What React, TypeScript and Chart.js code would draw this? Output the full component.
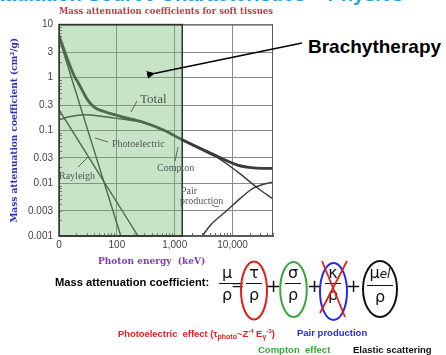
import React, { useEffect, useRef } from "react";
import { Chart, registerables } from "chart.js";

Chart.register(...registerables);

// ---- data ----
const xTickValues = [10, 100, 1000, 10000];
const xTickLabels = ["0", "100", "1,000", "10,000"];
const yTickValues = [0.001, 0.003, 0.01, 0.03, 0.1, 0.3, 1, 3, 10];
const yTickLabels = ["0.001", "0.003", "0.01", "0.03", "0.1", "0.3", "1", "3", "10"];

const totalEnergy = [10, 14, 18.6, 21, 31, 41, 62, 92, 122, 272, 684, 1350, 4140, 12200, 23200, 50000];
const totalMu = [6.2, 2.2, 1.03, 0.83, 0.38, 0.27, 0.224, 0.197, 0.18, 0.145, 0.098, 0.066, 0.037, 0.022, 0.0195, 0.019];

const comptonEnergy = [10, 15, 28, 62, 92, 122, 272, 684, 1350, 4140, 5480, 12200, 27200, 50000];
const comptonMu = [0.158, 0.18, 0.197, 0.18, 0.17, 0.163, 0.14, 0.096, 0.065, 0.035, 0.0305, 0.0163, 0.0081, 0.005];

const photoEnergy = [10, 117];
const photoMu = [5.6, 0.001];

const rayleighEnergy = [10, 232];
const rayleighMu = [0.245, 0.001];

const pairEnergy = [3000, 4140, 8180, 13800, 23200, 50000];
const pairMu = [0.001, 0.0016, 0.0031, 0.0052, 0.0081, 0.0106];

const brachyMaxEnergy = 1350;
const xMin = 10;
const xMax = 50000;
const yMin = 0.001;
const yMax = 10;

const pts = (xs: number[], ys: number[]) => xs.map((x, i) => ({ x, y: ys[i] }));

const overlayPlugin = {
  id: "overlay",
  beforeDatasetsDraw(chart: any) {
    const { ctx, chartArea, scales } = chart;
    const { left, bottom } = chartArea;
    ctx.save();
    ctx.strokeStyle = "#666";
    ctx.lineWidth = 1;
    for (let d = 10; d < xMax; d *= 10) {
      for (let m = 2; m <= 9; m++) {
        const v = d * m;
        if (v > xMax) break;
        const px = Math.round(scales.x.getPixelForValue(v)) + 0.5;
        ctx.beginPath();
        ctx.moveTo(px, bottom);
        ctx.lineTo(px, bottom - 3);
        ctx.stroke();
      }
    }
    for (let d = 0.001; d < yMax; d *= 10) {
      for (let m = 2; m <= 9; m++) {
        const py = Math.round(scales.y.getPixelForValue(d * m)) + 0.5;
        ctx.beginPath();
        ctx.moveTo(left, py);
        ctx.lineTo(left + 3, py);
        ctx.stroke();
      }
    }
    ctx.restore();
  },
  afterDatasetsDraw(chart: any) {
    const { ctx, chartArea, scales } = chart;
    const { left, right, top, bottom } = chartArea;
    const gx = scales.x.getPixelForValue(brachyMaxEnergy);
    ctx.save();
    ctx.fillStyle = "rgba(110,185,110,0.38)";
    ctx.fillRect(left, top, gx - left, bottom - top);
    ctx.strokeStyle = "#5a5a5a";
    ctx.lineWidth = 1;
    ctx.strokeRect(left + 0.5, top + 0.5, right - left - 1, bottom - top - 1);
    ctx.strokeStyle = "#333";
    ctx.lineWidth = 1.5;
    ctx.strokeRect(left, top, gx - left, bottom - top);
    ctx.restore();
  },
};

function ChartCanvas() {
  const ref = useRef<HTMLCanvasElement | null>(null);
  useEffect(() => {
    if (!ref.current) return;
    const lineColor = "#3a3a3a";
    const chart = new Chart(ref.current, {
      type: "line",
      data: {
        datasets: [
          { label: "Total", data: pts(totalEnergy, totalMu), borderColor: lineColor, borderWidth: 2.8, cubicInterpolationMode: "monotone" },
          { label: "Compton", data: pts(comptonEnergy, comptonMu), borderColor: lineColor, borderWidth: 1.4, cubicInterpolationMode: "monotone" },
          { label: "Photoelectric", data: pts(photoEnergy, photoMu), borderColor: lineColor, borderWidth: 1.4, tension: 0 },
          { label: "Rayleigh", data: pts(rayleighEnergy, rayleighMu), borderColor: lineColor, borderWidth: 1.4, tension: 0 },
          { label: "Pair production", data: pts(pairEnergy, pairMu), borderColor: lineColor, borderWidth: 1.4, cubicInterpolationMode: "monotone" },
        ] as any,
      },
      options: {
        responsive: false,
        animation: false,
        events: [],
        elements: { point: { radius: 0 } },
        layout: { padding: { left: 0, right: 17, top: 0, bottom: 0 } },
        plugins: {
          legend: { display: false },
          tooltip: { enabled: false },
          title: {
            display: true,
            fullSize: false,
            text: "Mass attenuation coefficients for soft tissues",
            color: "#c03a44",
            font: { family: "'DejaVu Serif'", size: 8.8, weight: "bold" },
            padding: { top: 6, bottom: 8 },
          },
        },
        scales: {
          x: {
            type: "logarithmic",
            min: xMin,
            max: xMax,
            afterBuildTicks: (s: any) => {
              s.ticks = xTickValues.map((v) => ({ value: v }));
            },
            afterFit: (s: any) => {
              s.height = 26;
            },
            ticks: {
              autoSkip: false,
              maxRotation: 0,
              padding: 3,
              color: "#444",
              font: { family: "'Liberation Sans'", size: 10 },
              callback: (v: any) => {
                const i = xTickValues.indexOf(Number(v));
                return i >= 0 ? xTickLabels[i] : "";
              },
            },
            grid: { color: "#8a8a8a", lineWidth: 1, drawTicks: false },
            border: { color: "#5a5a5a" },
          },
          y: {
            type: "logarithmic",
            min: yMin,
            max: yMax,
            afterBuildTicks: (s: any) => {
              s.ticks = yTickValues.map((v) => ({ value: v }));
            },
            afterFit: (s: any) => {
              s.width = 59;
            },
            ticks: {
              autoSkip: false,
              padding: 6,
              color: "#444",
              font: { family: "'Liberation Sans'", size: 10 },
              callback: (v: any) => {
                const i = yTickValues.findIndex((t) => Math.abs(t - Number(v)) / t < 1e-6);
                return i >= 0 ? yTickLabels[i] : "";
              },
            },
            grid: { color: "#8a8a8a", lineWidth: 1, drawTicks: false },
            border: { color: "#5a5a5a" },
            title: {
              display: true,
              text: "Mass attenuation coefficient (cm\u00B2/g)",
              color: "#2e2eb8",
              font: { family: "'DejaVu Serif'", size: 9, weight: "bold" },
              padding: { top: 9, bottom: 0 },
            },
          },
        },
      },
      plugins: [overlayPlugin],
    } as any);
    return () => chart.destroy();
  }, []);
  return <canvas ref={ref} width={290} height={262} style={{ position: "absolute", left: 0, top: 0 }} />;
}

type TProps = { x: number; cy: number; size: number; color: string; family?: string; weight?: any; children: any; style?: any };
function T({ x, cy, size, color, family = "'Liberation Sans', Arial, sans-serif", weight = "normal", children, style }: TProps) {
  return (
    <div
      style={{
        position: "absolute",
        left: x,
        top: cy - size / 2,
        fontSize: size,
        lineHeight: 1,
        color,
        fontFamily: family,
        fontWeight: weight,
        whiteSpace: "nowrap",
        ...style,
      }}
    >
      {children}
    </div>
  );
}

function Frac({ cx, top, num, den, w = 16 }: { cx: number; top: number; num: any; den: any; w?: number }) {
  return (
    <div
      style={{
        position: "absolute",
        left: cx - w / 2,
        top,
        width: w,
        textAlign: "center",
        fontFamily: "'DejaVu Sans', sans-serif",
        fontSize: 16,
        lineHeight: "17px",
        color: "#111",
      }}
    >
      <div>{num}</div>
      <div style={{ height: 1.3, background: "#111", margin: "2px 0 2px 0" }} />
      <div>{den}</div>
    </div>
  );
}

const serif = "'Liberation Serif', 'Times New Roman', serif";
const labelGray = "#4d5a4d";

export default function App() {
  return (
    <div style={{ position: "absolute", left: 0, top: 0, width: 446, height: 355, overflow: "hidden", background: "#fff" }}>
      {/* slide title, clipped by the top edge */}
      <div
        style={{
          position: "absolute",
          right: 43,
          top: -16.5,
          fontSize: 20,
          lineHeight: 1,
          fontWeight: "bold",
          color: "#1ea0e0",
          fontFamily: "'Liberation Sans', Arial, sans-serif",
          whiteSpace: "nowrap",
        }}
      >
        Radiation Source Characteristics – Physics
      </div>

      <ChartCanvas />

      {/* x axis title */}
      <T x={98} cy={261} size={9} color="#7d3cc4" family="'DejaVu Serif', serif" weight="bold">
        Photon energy&nbsp; (keV)
      </T>

      {/* curve labels */}
      <T x={140} cy={98} size={13} color={labelGray} family={serif}>Total</T>
      <T x={112} cy={144} size={10} color={labelGray} family={serif}>Photoelectric</T>
      <T x={59} cy={176} size={10} color={labelGray} family={serif}>Rayleigh</T>
      <T x={157} cy={168} size={10} color={labelGray} family={serif}>Compton</T>
      <T x={181} cy={191} size={10} color="#555" family={serif}>Pair</T>
      <T x={180} cy={201} size={10} color="#555" family={serif}>production</T>

      <T x={308} cy={46} size={19} color="#000" weight="bold">Brachytherapy</T>

      <T x={55} cy={283} size={11.2} color="#000" weight="bold">Mass attenuation coefficient:</T>

      <Frac cx={227} top={264} num="μ" den="ρ" />
      <T x={231} cy={285} size={16} color="#111" family="'DejaVu Sans', sans-serif">=</T>
      <Frac cx={254} top={264} num="τ" den="ρ" />
      <T x={266} cy={286} size={18} color="#111" family="'DejaVu Sans', sans-serif">+</T>
      <Frac cx={293} top={264} num="σ" den="ρ" />
      <T x={307} cy={286} size={18} color="#111" family="'DejaVu Sans', sans-serif">+</T>
      <Frac cx={333} top={264} num="κ" den="ρ" />
      <T x={346} cy={286} size={18} color="#111" family="'DejaVu Sans', sans-serif">+</T>
      <Frac
        cx={380}
        top={264}
        w={26}
        num={
          <span>
            μ<span style={{ fontSize: 12, fontStyle: "italic" }}>el</span>
          </span>
        }
        den="ρ"
      />

      <svg width={446} height={355} style={{ position: "absolute", left: 0, top: 0, pointerEvents: "none" }}>
        <defs>
          <marker id="ah" markerWidth="8" markerHeight="8" refX="1" refY="4" orient="auto-start-reverse" markerUnits="userSpaceOnUse">
            <path d="M8,0 L0,4 L8,8 Z" fill="#000" />
          </marker>
        </defs>
        <line x1={302} y1={43} x2={154} y2={73.5} stroke="#000" strokeWidth={1.5} markerEnd="url(#ah)" />
        {/* label pointers */}
        <line x1={137} y1={101} x2={131} y2={112} stroke={labelGray} strokeWidth={0.9} />
        <line x1={108} y1={142} x2={95} y2={138} stroke={labelGray} strokeWidth={0.9} />
        <line x1={78} y1={167} x2={88} y2={157} stroke={labelGray} strokeWidth={0.9} />
        <line x1={175} y1={161} x2={178} y2={147} stroke={labelGray} strokeWidth={0.9} />
        <path d="M212,205 Q216,208 219,206" stroke="#555" strokeWidth={0.9} fill="none" />

        {/* formula ellipses */}
        <ellipse cx={254} cy={290.5} rx={13} ry={29} fill="none" stroke="#e3201c" strokeWidth={2} />
        <ellipse cx={293.5} cy={289.5} rx={13.3} ry={27.5} fill="none" stroke="#3aa53a" strokeWidth={2} />
        <ellipse cx={333.5} cy={291.5} rx={13.5} ry={28.5} fill="none" stroke="#2828e8" strokeWidth={2} />
        <ellipse cx={380} cy={289} rx={17} ry={28} fill="none" stroke="#111" strokeWidth={2} />
        <line x1={322} y1={261} x2={345} y2={317} stroke="#e3201c" strokeWidth={1.8} />
        <line x1={347} y1={261} x2={320} y2={313} stroke="#e3201c" strokeWidth={1.8} />
      </svg>

      <T x={118} cy={333} size={9.4} color="#e3201c" weight="bold">
        Photoelectric&nbsp; effect (τ<sub style={{ fontSize: 7, verticalAlign: "-2px" }}>photo</sub>~Z
        <sup style={{ fontSize: 6, verticalAlign: "4px" }}>-4</sup> E<sub style={{ fontSize: 7, verticalAlign: "-2px" }}>γ</sub>
        <sup style={{ fontSize: 6, verticalAlign: "4px" }}>-3</sup>)
      </T>
      <T x={297} cy={333} size={9.5} color="#2a2ad8" weight="bold">Pair production</T>
      <T x={258} cy={350} size={9.5} color="#3aa53a" weight="bold">Compton&nbsp; effect</T>
      <T x={353} cy={350} size={9.5} color="#111" weight="bold">Elastic scattering</T>
    </div>
  );
}
